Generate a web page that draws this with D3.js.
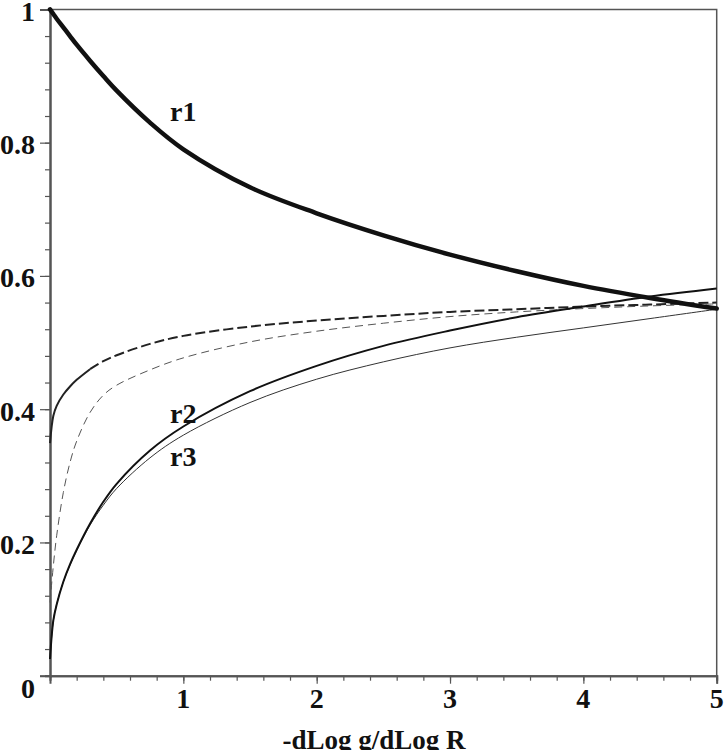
<!DOCTYPE html>
<html>
<head>
<meta charset="utf-8">
<script src="https://cdn.jsdelivr.net/npm/d3@7"></script>
<style>
  body { margin: 0; background: #fff; }
  svg { display: block; }
  .lbl { font-family: "Liberation Serif", "Times New Roman", serif; font-weight: bold; fill: #111; }
</style>
</head>
<body>
<script>
// sample positions along -dLog g/dLog R
const xs = [0, 0.025, 0.05, 0.1, 0.15, 0.2, 0.3, 0.4, 0.5, 0.75, 1, 1.5, 2, 2.5, 3, 3.5, 4, 4.5, 5];

const r1 = [1.0, 0.993, 0.986, 0.973, 0.96, 0.947, 0.923, 0.9, 0.878, 0.83, 0.79, 0.733, 0.694, 0.661, 0.632, 0.607, 0.585, 0.567, 0.551];
const r2 = [0.025, 0.083, 0.107, 0.141, 0.167, 0.189, 0.228, 0.261, 0.288, 0.338, 0.374, 0.427, 0.465, 0.495, 0.518, 0.538, 0.554, 0.569, 0.581];
const r3 = [0.025, 0.083, 0.107, 0.141, 0.166, 0.188, 0.226, 0.256, 0.281, 0.327, 0.361, 0.41, 0.445, 0.471, 0.492, 0.508, 0.522, 0.536, 0.55];
// upper curve: solid near the axis, dashed after x = 0.3
const upper = [0.349, 0.39, 0.405, 0.422, 0.434, 0.444, 0.46, 0.472, 0.481, 0.498, 0.51, 0.524, 0.533, 0.54, 0.546, 0.55, 0.554, 0.557, 0.56];
const thinDash = [0.11, 0.165, 0.21, 0.275, 0.32, 0.352, 0.395, 0.421, 0.436, 0.459, 0.477, 0.501, 0.517, 0.529, 0.539, 0.546, 0.551, 0.555, 0.558];

const xMajor = [1, 2, 3, 4, 5];
const yMajor = [0, 0.2, 0.4, 0.6, 0.8, 1];
const curveLabels = [
  {name: "r1", x: 0.9, y: 0.833},
  {name: "r2", x: 0.9, y: 0.38},
  {name: "r3", x: 0.9, y: 0.314}
];

const width = 724, height = 750;
const margin = {left: 50, top: 9.4, right: 7.3, bottom: 74.3};

const svg = d3.select("body").append("svg")
  .attr("width", width)
  .attr("height", height);

const x = d3.scaleLinear().domain([0, 5]).range([margin.left, width - margin.right]);
const y = d3.scaleLinear().domain([0, 1]).range([height - margin.bottom, margin.top]);

const toPts = vals => xs.map((v, i) => [v, vals[i]]);

const line = d3.line()
  .x(d => x(d[0]))
  .y(d => y(d[1]))
  .curve(d3.curveCatmullRom.alpha(0.5));

// frame (top and right)
svg.append("path")
  .attr("d", `M${x(0)},${y(1)}H${x(5)}V${y(0)}`)
  .attr("fill", "none")
  .attr("stroke", "#555")
  .attr("stroke-width", 1.5);

// axes: minor ticks then major ticks
const minorX = d3.range(0, 26).map(i => i * 0.2);
const minorY = d3.range(0, 26).map(i => i * 0.04);

const gx = svg.append("g").attr("transform", `translate(0,${y(0)})`);
gx.call(d3.axisBottom(x).tickValues(minorX).tickSize(5).tickFormat(""));
const gx2 = svg.append("g").attr("transform", `translate(0,${y(0)})`);
gx2.call(d3.axisBottom(x).tickValues(xMajor).tickSize(8).tickFormat(""));

const gy = svg.append("g").attr("transform", `translate(${x(0)},0)`);
gy.call(d3.axisLeft(y).tickValues(minorY).tickSize(5).tickFormat(""));
const gy2 = svg.append("g").attr("transform", `translate(${x(0)},0)`);
gy2.call(d3.axisLeft(y).tickValues(yMajor).tickSize(10).tickFormat(""));

svg.selectAll(".domain").attr("stroke", "#555").attr("stroke-width", 2);
svg.selectAll(".tick line").attr("stroke", "#555").attr("stroke-width", 1.2);

// tick labels
svg.selectAll("text.xt").data(xMajor).enter().append("text")
  .attr("class", "lbl xt")
  .attr("x", d => x(d))
  .attr("y", y(0) + 32)
  .attr("text-anchor", "middle")
  .attr("font-size", 28)
  .text(d => d);

svg.selectAll("text.yt").data(yMajor).enter().append("text")
  .attr("class", "lbl yt")
  .attr("x", 35)
  .attr("y", d => y(d) + (d === 0 ? 22 : 11.5))
  .attr("text-anchor", "end")
  .attr("font-size", 28)
  .text(d => d);

// axis title
svg.append("text")
  .attr("class", "lbl")
  .attr("x", 374)
  .attr("y", 749)
  .attr("text-anchor", "middle")
  .attr("font-size", 27)
  .text("-dLog g/dLog R");

// curves
const upperPts = toPts(upper);
svg.append("path")
  .attr("d", line(upperPts.filter(d => d[0] <= 0.3)))
  .attr("fill", "none").attr("stroke", "#222").attr("stroke-width", 2);
svg.append("path")
  .attr("d", line(upperPts.filter(d => d[0] >= 0.3)))
  .attr("fill", "none").attr("stroke", "#222").attr("stroke-width", 2)
  .attr("stroke-dasharray", "10,4");

svg.append("path")
  .attr("d", line(toPts(thinDash)))
  .attr("fill", "none").attr("stroke", "#555").attr("stroke-width", 1)
  .attr("stroke-dasharray", "8,5");

svg.append("path")
  .attr("d", line(toPts(r3)))
  .attr("fill", "none").attr("stroke", "#333").attr("stroke-width", 1);

svg.append("path")
  .attr("d", line(toPts(r2)))
  .attr("fill", "none").attr("stroke", "#111").attr("stroke-width", 2);

svg.append("path")
  .attr("d", line(toPts(r1)))
  .attr("fill", "none").attr("stroke", "#111").attr("stroke-width", 4.5)
  .attr("stroke-linecap", "round");

// curve labels
svg.selectAll("text.cl").data(curveLabels).enter().append("text")
  .attr("class", "lbl cl")
  .attr("x", d => x(d.x))
  .attr("y", d => y(d.y))
  .attr("font-size", 28)
  .text(d => d.name);
</script>
</body>
</html>
